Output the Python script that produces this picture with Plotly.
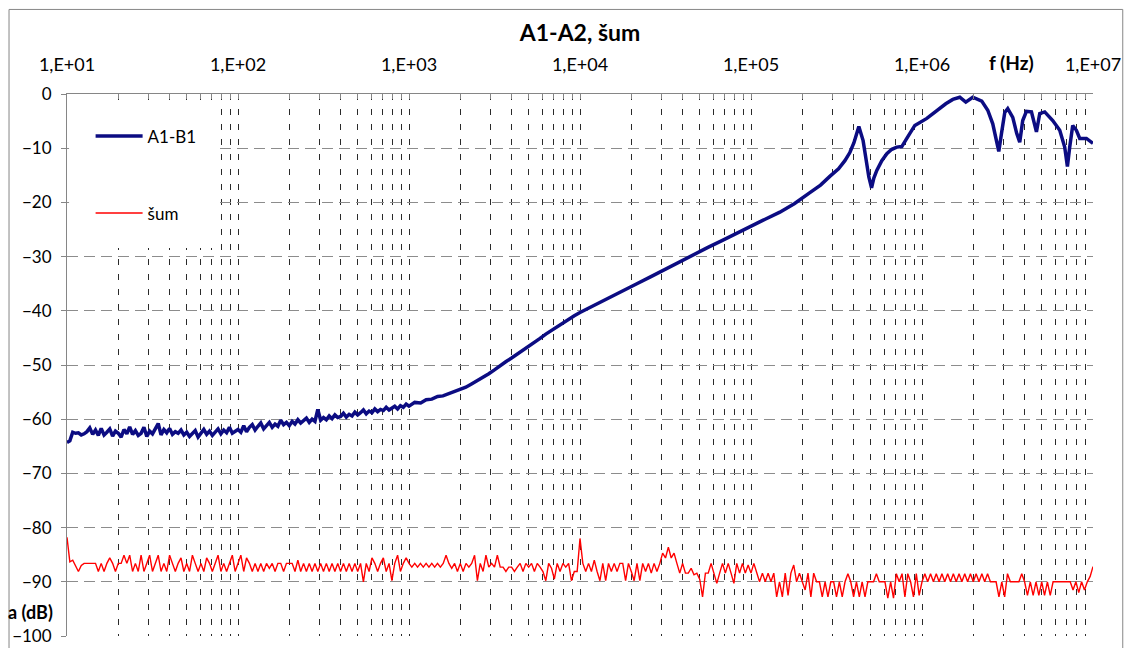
import plotly.graph_objects as go

# ---------------- data ----------------
# frequency mantissas per decade (30 pts / decade)
MANT = [1.0, 1.08, 1.17, 1.26, 1.36, 1.47, 1.58, 1.71, 1.85, 2.0,
        2.15, 2.32, 2.51, 2.71, 2.93, 3.16, 3.41, 3.68, 3.98, 4.3,
        4.64, 5.01, 5.41, 5.84, 6.31, 6.81, 7.36, 7.94, 8.58, 9.26]
# finer measurement grid (60 pts / decade)
MANT60 = [1.0, 1.039, 1.08, 1.122, 1.166, 1.212, 1.259, 1.308, 1.359, 1.413,
          1.468, 1.525, 1.585, 1.647, 1.711, 1.778, 1.848, 1.92, 1.995, 2.073,
          2.154, 2.239, 2.326, 2.418, 2.512, 2.61, 2.712, 2.818, 2.929, 3.043,
          3.162, 3.286, 3.415, 3.548, 3.687, 3.831, 3.981, 4.137, 4.299, 4.467,
          4.642, 4.823, 5.012, 5.208, 5.412, 5.623, 5.843, 6.072, 6.31, 6.556,
          6.813, 7.079, 7.356, 7.644, 7.943, 8.254, 8.577, 8.913, 9.261, 9.624]

# "šum" (noise) series, dB, one list per decade (60 pts each), 10 Hz .. 1e7 Hz
NOISE_D1 = [-81.8, -86.3, -86.0, -87.0, -88.1, -87.0, -86.6, -86.6, -86.6, -86.6,
            -86.6, -88.1, -86.6, -88.1, -86.6, -85.6, -86.6, -88.1, -86.6, -86.6,
            -85.1, -86.6, -85.1, -88.1, -86.6, -88.1, -85.1, -88.1, -86.6, -85.1,
            -88.1, -86.6, -85.1, -88.1, -86.6, -88.1, -85.1, -86.6, -88.1, -86.6,
            -85.6, -88.1, -86.6, -88.1, -85.1, -86.6, -88.1, -86.6, -88.1, -85.6,
            -86.6, -88.1, -86.6, -85.1, -88.1, -86.6, -88.1, -86.6, -85.1, -88.1]
NOISE_D2 = [-86.6, -85.1, -88.1, -85.6, -86.6, -88.1, -86.6, -88.1, -86.6, -88.1,
            -86.6, -87.5, -86.6, -88.1, -86.6, -86.6, -88.1, -86.6, -86.6, -86.6,
            -88.1, -86.0, -88.1, -86.6, -88.1, -86.6, -88.1, -86.6, -88.1, -86.6,
            -88.1, -86.6, -88.1, -86.6, -88.1, -86.6, -88.1, -86.6, -88.1, -86.6,
            -88.1, -86.6, -88.1, -86.6, -90.0, -86.6, -88.1, -85.6, -86.6, -88.1,
            -86.6, -85.6, -88.1, -86.6, -89.8, -86.6, -85.1, -88.1, -86.6, -85.6]
NOISE_D3 = [-86.6, -87.3, -86.6, -87.3, -86.6, -87.3, -86.6, -87.3, -86.6, -87.3,
            -86.6, -87.3, -86.6, -85.1, -86.6, -87.5, -86.6, -88.1, -86.6, -88.1,
            -86.6, -87.3, -86.6, -85.1, -89.8, -86.6, -88.1, -85.1, -87.3, -86.6,
            -87.3, -85.1, -87.3, -87.3, -88.1, -87.3, -87.3, -88.1, -87.3, -86.6,
            -88.1, -86.6, -87.3, -86.6, -88.1, -86.6, -87.3, -88.1, -89.8, -86.6,
            -87.5, -89.5, -86.6, -88.1, -86.6, -87.3, -86.6, -89.8, -88.1, -88.1]
NOISE_D4 = [-82.0, -86.6, -88.1, -86.6, -88.1, -86.0, -88.1, -89.8, -86.6, -89.8,
            -86.6, -88.1, -86.6, -88.1, -86.6, -86.6, -89.8, -86.6, -88.1, -89.8,
            -86.6, -89.8, -86.6, -88.1, -86.6, -88.4, -86.6, -88.1, -86.6, -84.7,
            -85.6, -83.6, -85.6, -84.7, -86.6, -88.4, -86.6, -88.4, -88.4, -87.5,
            -88.7, -88.4, -89.5, -92.8, -88.4, -88.4, -86.6, -88.4, -90.3, -88.4,
            -86.6, -88.4, -86.6, -88.4, -90.3, -86.6, -88.4, -86.6, -88.4, -86.9]
NOISE_D5 = [-88.4, -86.6, -88.4, -90.0, -88.4, -90.0, -88.4, -90.0, -88.4, -92.8,
            -90.0, -92.8, -88.4, -92.5, -88.4, -86.9, -90.0, -88.4, -90.0, -91.5,
            -88.4, -92.8, -88.4, -90.0, -90.0, -92.8, -90.0, -92.8, -90.0, -90.0,
            -92.8, -90.0, -92.8, -90.0, -88.5, -90.0, -92.8, -90.0, -92.8, -90.0,
            -92.8, -90.0, -90.0, -90.0, -88.5, -90.0, -90.0, -90.0, -93.0, -90.0,
            -93.0, -88.5, -90.0, -88.5, -92.8, -88.5, -90.0, -92.8, -88.5, -92.5]
NOISE_D6 = [-90.0, -88.5, -90.0, -88.5, -90.0, -88.5, -90.0, -88.5, -90.0, -88.5,
            -90.0, -88.5, -90.0, -88.5, -90.0, -88.5, -90.0, -88.5, -90.0, -88.5,
            -90.0, -88.5, -90.0, -88.5, -90.0, -90.0, -90.0, -92.8, -90.0, -92.8,
            -88.5, -90.0, -90.0, -90.0, -90.0, -88.5, -90.0, -92.5, -90.0, -92.5,
            -90.0, -92.5, -90.0, -92.5, -90.0, -92.5, -90.0, -90.0, -90.0, -90.0,
            -90.0, -90.0, -90.0, -91.5, -90.0, -92.0, -90.0, -91.5, -90.0, -89.0]
NOISE_END = [-87.2]

# "A1-B1" series, dB
A1B1_D1 = [-64.3, -64.0, -62.4, -62.6, -62.5, -62.9, -62.7, -62.3, -61.6, -62.8,
           -62.0, -63.0, -61.7, -62.9, -62.4, -61.8, -63.1, -62.2, -62.6, -63.3,
           -61.9, -62.7, -61.4, -62.8, -62.1, -63.0, -62.6, -61.5, -63.2, -62.2,
           -62.7, -61.6, -60.8, -62.9, -61.9, -62.5, -61.7, -62.8, -62.3, -62.6,
           -62.0, -62.9, -62.4, -63.2, -62.6, -62.1, -63.3, -62.5, -61.9, -62.8,
           -62.2, -63.0, -62.4, -61.8, -62.7, -62.0, -62.5, -61.5, -62.6, -62.2]
A1B1_D2 = [-61.9, -62.4, -61.2, -62.3, -61.5, -61.0, -62.0, -61.3, -60.7, -61.8,
           -61.1, -60.6, -61.5, -60.9, -61.3, -60.2, -61.0, -60.6, -61.2, -60.4,
           -60.9, -60.1, -60.7, -60.3, -59.8, -60.6, -60.0, -60.4, -58.2, -60.2,
           -59.7, -60.1, -59.4, -59.9, -59.2, -59.7, -59.5, -58.9, -59.6, -59.1,
           -59.4, -58.7, -59.2, -58.8, -58.3, -59.0, -58.5, -58.8, -58.1, -58.6,
           -58.2, -58.4, -57.8, -58.3, -57.9, -57.6, -58.1, -57.5, -57.8, -57.2]
A1B1_D3 = [-57.6, -56.9, -57.0, -56.4, -56.3, -55.8, -55.7, -55.3, -55.0, -54.6,
           -54.1, -53.5, -52.9, -52.3, -51.6, -50.9, -50.1, -49.4, -48.7, -48.0,
           -47.2, -46.5, -45.8, -45.1, -44.3, -43.6, -42.9, -42.2, -41.5, -40.9]
A1B1_HF_F = [1.0e4, 1.2e4, 1.47e4, 1.8e4, 2.15e4, 2.6e4, 3.16e4, 3.8e4, 4.64e4, 5.6e4,
             6.81e4, 8.2e4, 1.0e5, 1.21e5, 1.475e5, 1.8e5, 2.21e5, 2.55e5, 2.89e5, 3.25e5,
             3.54e5, 3.785e5, 4.0e5, 4.215e5, 4.272e5, 4.525e5, 4.738e5, 4.887e5, 5.069e5, 5.228e5,
             5.44e5, 5.821e5, 6.227e5, 6.66e5, 7.123e5, 7.619e5, 8.15e5, 8.6e5, 9.077e5, 1.067e6,
             1.157e6, 1.27e6, 1.377e6, 1.514e6, 1.663e6, 1.803e6, 1.981e6, 2.236e6, 2.424e6, 2.593e6,
             2.737e6, 2.812e6, 2.916e6, 3.048e6, 3.173e6, 3.394e6, 3.582e6, 3.729e6, 3.882e6, 4.08e6,
             4.365e6, 4.669e6, 4.881e6, 5.22e6, 5.814e6, 6.39e6, 6.832e6, 7.085e6, 7.307e6, 7.61e6,
             7.998e6, 8.362e6, 9.151e6, 1.0e7]
A1B1_HF_DB = [-40.3, -39.0, -37.6, -36.2, -35.0, -33.7, -32.3, -31.0, -29.6, -28.3,
              -27.0, -25.7, -24.4, -23.1, -21.8, -20.2, -18.2, -16.8, -15.2, -13.8,
              -12.3, -10.8, -9.0, -6.5, -6.0, -8.6, -12.8, -15.3, -17.3, -15.5,
              -14.1, -12.3, -11.0, -10.2, -9.8, -9.7, -8.2, -7.0, -5.8, -4.5,
              -3.6, -2.5, -1.8, -1.0, -0.6, -1.5, -0.6, -1.3, -3.0, -5.5,
              -8.6, -10.6, -7.3, -3.4, -2.7, -4.3, -7.3, -8.9, -4.9, -3.2,
              -3.3, -7.0, -3.6, -3.3, -4.9, -6.7, -9.8, -13.4, -9.8, -5.8,
              -6.7, -8.2, -8.2, -9.1]

DECADE_LABELS = ["1,E+01", "1,E+02", "1,E+03", "1,E+04", "1,E+05", "1,E+06", "1,E+07"]
Y_TICKS = [0, -10, -20, -30, -40, -50, -60, -70, -80, -90, -100]

# ---------------- assemble ----------------
noise_f = [m * 10 ** d for d in range(1, 7) for m in MANT60] + [1e7]
noise_db = NOISE_D1 + NOISE_D2 + NOISE_D3 + NOISE_D4 + NOISE_D5 + NOISE_D6 + NOISE_END

a_f = ([m * 10 ** d for d in range(1, 3) for m in MANT60]
       + [m * 1e3 for m in MANT] + A1B1_HF_F)
a_db = A1B1_D1 + A1B1_D2 + A1B1_D3 + A1B1_HF_DB

tickvals, ticktext = [], []
for i, d in enumerate(range(1, 7)):
    for k in range(1, 10):
        tickvals.append(k * 10 ** d)
        ticktext.append(DECADE_LABELS[i] if k == 1 else "")
tickvals.append(1e7)
ticktext.append(DECADE_LABELS[-1])

FONT = "Lato, Carlito, Calibri, 'Liberation Sans', sans-serif"

fig = go.Figure()
fig.add_trace(go.Scatter(x=a_f, y=a_db, mode="lines", name="A1-B1",
                         legendgroup="a", line=dict(color="#0C0C82", width=3.5)))
fig.add_trace(go.Scatter(x=noise_f, y=noise_db, mode="lines", name="šum",
                         legendgroup="n", line=dict(color="#FF0000", width=1.4)))

fig.update_xaxes(type="log", range=[1, 7], side="top", automargin=False,
                 tickmode="array", tickvals=tickvals, ticktext=ticktext,
                 showgrid=True, gridcolor="#2a2a2a", griddash="6px,9px", gridwidth=1,
                 showline=True, linecolor="#868686", linewidth=1,
                 ticks="inside", ticklen=5, tickcolor="#868686",
                 tickfont=dict(family=FONT, size=18, color="#000000"),
                 ticklabelstandoff=15, zeroline=False)
fig.update_yaxes(range=[-100, 0], tickmode="array", tickvals=Y_TICKS, automargin=False,
                 showgrid=True, gridcolor="#8c8c8c", griddash="11px,6px", gridwidth=1,
                 showline=True, linecolor="#868686", linewidth=1,
                 ticks="outside", ticklen=5, tickcolor="#868686",
                 tickfont=dict(family=FONT, size=17, color="#000000"),
                 ticklabelstandoff=6, zeroline=False)

fig.update_layout(
    width=1127, height=648,
    margin=dict(l=67, r=34, t=94, b=12, autoexpand=False),
    paper_bgcolor="white", plot_bgcolor="white",
    font=dict(family=FONT, color="#000000"),
    title=dict(text="<b>A1-A2, šum</b>", x=0.5, xref="paper", xanchor="center",
               y=1 - 33 / 648, yref="container", yanchor="middle",
               font=dict(family=FONT, size=23, color="#000000")),
    showlegend=True,
    legend=dict(x=0.023, y=0.955, xanchor="left", yanchor="top",
                bgcolor="rgba(0,0,0,0)", borderwidth=0,
                font=dict(family=FONT, size=17, color="#000000"),
                tracegroupgap=52, itemwidth=47),
    shapes=[
        dict(type="rect", xref="paper", yref="paper", x0=0.002, x1=0.1433, y0=0.716, y1=0.989,
             fillcolor="white", line=dict(width=0), layer="above"),
        dict(type="rect", xref="paper", yref="paper", x0=-0.0565, x1=1.029, y0=-0.08, y1=1.156,
             fillcolor="rgba(0,0,0,0)", line=dict(color="#868686", width=1), layer="above"),
    ],
    annotations=[
        dict(text="<b>f (Hz)</b>", xref="paper", yref="paper", x=0.921, y=1.058,
             showarrow=False, xanchor="center", yanchor="middle",
             font=dict(family=FONT, size=19, color="#000000")),
        dict(text="<b>a (dB)</b>", xref="paper", yref="paper", x=-0.036, y=0.044,
             showarrow=False, xanchor="center", yanchor="middle",
             font=dict(family=FONT, size=18, color="#000000")),
    ],
)

fig.write_html("out.html")
